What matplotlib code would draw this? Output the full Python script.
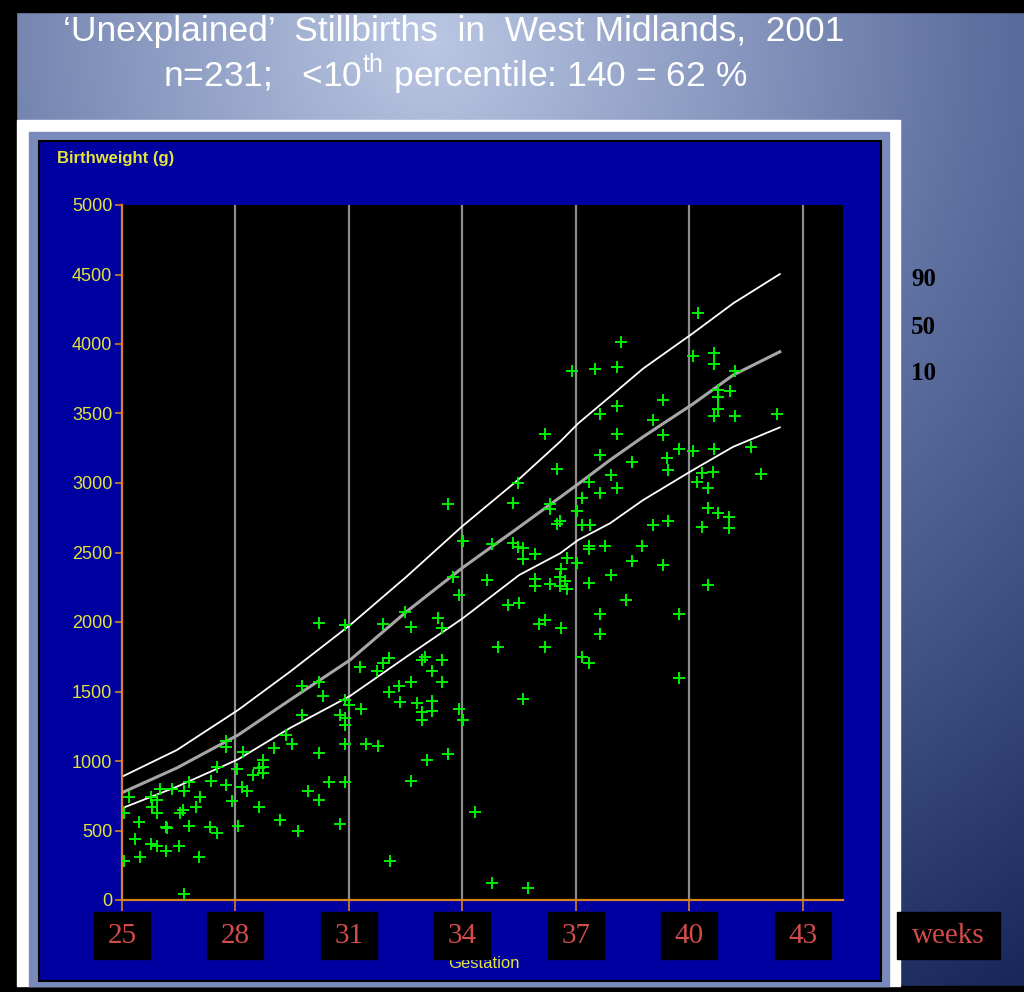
import numpy as np
import matplotlib.pyplot as plt
from matplotlib.patches import Rectangle

plt.rcParams['font.family'] = ['Liberation Sans', 'DejaVu Sans']
plt.rcParams['mathtext.fontset'] = 'custom'
plt.rcParams['mathtext.rm'] = 'Liberation Sans'

# percentile curves
curve_weeks = [25, 26.45, 28.07, 29.44, 31.03, 32.52, 34, 35.5, 36.58, 37.06,
               37.9, 38.78, 40.09, 41.16, 42.39]
p90 = [887, 1079, 1367, 1642, 1978, 2326, 2690, 3029, 3297, 3429,
       3621, 3824, 4077, 4293, 4503]
p50 = [772, 950, 1187, 1439, 1727, 2074, 2390, 2683, 2897, 2993,
       3165, 3333, 3568, 3777, 3944]
p10 = [660, 815, 1012, 1237, 1468, 1750, 2025, 2338, 2494, 2590,
       2710, 2878, 3093, 3261, 3400]

# stillbirths: gestation (weeks) and birthweight (g)
gest = [30.21, 30.89, 29.77, 30.21, 30.32, 29.77, 30.89, 31.0, 30.76, 30.89,
        30.89, 30.89, 30.89, 30.76, 30.47, 30.21, 30.21, 29.92, 29.50, 29.33,
        29.03, 28.74, 28.74, 28.74, 28.62, 28.47, 28.63, 29.19, 29.64, 28.19,
        28.05, 28.16, 28.30, 27.92, 28.07, 27.75, 27.75, 27.50, 27.35, 27.75,
        27.06, 26.95, 26.78, 26.65, 26.62, 26.53, 26.78, 26.31, 26.0, 25.92,
        25.92, 25.78, 25.77, 26.16, 26.2, 27.33, 27.50, 26.52, 26.15, 25.76,
        25.92, 27.04, 25.48, 25.34, 25.46, 25.19, 25.04, 25.05, 26.64,
        33.61, 35.48, 35.34, 34.02, 34.79, 35.34, 35.48, 35.61, 35.61, 33.76,
        33.91, 34.64, 35.20, 35.50, 34.95, 35.61, 32.48, 33.35, 33.45, 32.63,
        31.91, 32.92, 33.02, 33.47, 33.20, 33.47, 32.06, 31.91, 31.75, 31.29,
        32.63, 32.32, 32.07, 32.35, 32.79, 33.20, 33.20, 32.92, 32.92, 33.91,
        34.02, 31.32, 31.45, 31.76, 33.05, 33.61, 32.63, 34.33, 32.08, 34.79,
        35.74,
        38.19, 36.89, 37.50, 38.08, 39.31, 38.08, 37.64, 39.04, 39.31, 38.08,
        36.18, 37.64, 38.49, 39.40, 39.44, 37.93, 36.49, 37.35, 37.64, 38.08,
        37.15, 36.31, 36.31, 37.04, 36.58, 36.49, 37.15, 37.37, 39.04, 39.44,
        35.92, 36.76, 37.35, 37.35, 37.77, 38.75, 38.49, 39.31, 37.04, 36.60,
        36.58, 36.71, 36.76, 36.58, 36.31, 35.92, 35.92, 37.35, 37.93, 38.32,
        36.03, 36.18, 36.60, 37.64, 37.64, 36.18, 37.15, 37.35,
        40.22, 40.09, 40.65, 40.65, 41.20, 40.76, 41.07, 40.76, 40.76, 40.65,
        41.20, 42.32, 39.73, 40.09, 40.65, 41.62, 40.32, 40.63, 40.21, 40.50,
        41.89, 40.48, 40.76, 41.05, 40.34, 41.05, 40.48, 39.73, 39.73]
bw = [1995, 1978, 1540, 1571, 1468, 1331, 1439, 1403, 1331, 1307,
      1259, 1122, 851, 547, 851, 719, 1060, 786, 1122, 1187,
      1091, 1007, 959, 911, 947, 899, 671, 576, 496, 1067,
      940, 815, 786, 712, 532, 1146, 1103, 959, 858, 827,
      743, 671, 851, 784, 647, 623, 532, 798, 798, 719,
      623, 671, 743, 527, 520, 523, 479, 391, 355, 400,
      391, 312, 312, 436, 563, 743, 623, 281, 43,
      2849, 3002, 2853, 2585, 2561, 2566, 2542, 2530, 2451, 2321,
      2194, 2302, 2122, 2139, 1822, 1444, 2074, 2026, 1959, 1962,
      1985, 1727, 1750, 1727, 1650, 1571, 1739, 1707, 1650, 1678,
      1571, 1540, 1499, 1427, 1420, 1434, 1362, 1355, 1295, 1372,
      1295, 1372, 1120, 1108, 1007, 1050, 858, 635, 281, 125,
      84,
      4013, 3808, 3819, 3832, 3595, 3552, 3494, 3454, 3347, 3355,
      3355, 3201, 3148, 3180, 3095, 3060, 3103, 3007, 2929, 2967,
      2895, 2847, 2815, 2796, 2730, 2704, 2701, 2701, 2701, 2727,
      2491, 2464, 2544, 2522, 2549, 2549, 2437, 2408, 2421, 2384,
      2323, 2296, 2235, 2262, 2270, 2309, 2262, 2278, 2336, 2158,
      1985, 2016, 1958, 2057, 1916, 1817, 1750, 1705,
      4225, 3914, 3933, 3856, 3806, 3669, 3664, 3621, 3530, 3484,
      3484, 3496, 3244, 3230, 3244, 3261, 3070, 3077, 3009, 2962,
      3065, 2818, 2786, 2758, 2686, 2674, 2266, 2055, 1599]

week_ticks = [25, 28, 31, 34, 37, 40, 43]
weight_ticks = list(range(0, 5001, 500))
pct_labels = ['90', '50', '10']

W, H = 1024, 992
orange = '#d8841c'
yellow = '#e2e43c'
salmon = '#d24c4c'

fig = plt.figure(figsize=(W / 100, H / 100), dpi=100)

# slide background (pixel coordinates)
bg = fig.add_axes([0, 0, 1, 1])
bg.set_xlim(0, W)
bg.set_ylim(H, 0)
bg.axis('off')
yy, xx = np.mgrid[0:H, 0:W]
d = np.clip(np.hypot(xx - 430, yy - 40) / 1100, 0, 1)
c0 = np.array([0.73, 0.78, 0.89])
c1 = np.array([0.37, 0.44, 0.63])
c2 = np.array([0.10, 0.16, 0.36])
t = d[..., None]
img = np.where(t < 0.5, c0 + (c1 - c0) * (t / 0.5), c1 + (c2 - c1) * ((t - 0.5) / 0.5))
bg.imshow(img, extent=(0, W, H, 0), aspect='auto', zorder=0)
bg.add_patch(Rectangle((0, 0), W, 12, color='black', zorder=1))
bg.add_patch(Rectangle((0, 0), 16, H, color='black', zorder=1))
bg.add_patch(Rectangle((0, 986), W, 6, color='black', zorder=1))
bg.add_patch(Rectangle((17, 120), 883, 866, color='white', zorder=2))
bg.add_patch(Rectangle((29, 132), 860, 854, color='#7a8aba', zorder=3))
bg.add_patch(Rectangle((39, 141), 842, 840, facecolor='#0000a0',
                       edgecolor='black', lw=1.5, zorder=4))

bg.text(454, 32, '\u2018Unexplained\u2019  Stillbirths  in  West Midlands,  2001',
        color='white', fontsize=25.5, ha='center', va='center', zorder=5)
bg.text(455, 74, r'n=231;   <10$^{\mathrm{th}}$ percentile: 140 = 62 %',
        color='white', fontsize=25.5, ha='center', va='center', zorder=5)

for lab, yp in zip(pct_labels, [279, 327, 373]):
    bg.text(911, yp, lab, fontsize=18, fontweight='bold', color='black',
            family='Liberation Serif', va='center', zorder=5)

bg.text(57, 158, 'Birthweight (g)', color=yellow, fontsize=12,
        fontweight='bold', va='center', zorder=5)
bg.text(484, 963, 'Gestation', color=yellow, fontsize=12, ha='center',
        va='center', zorder=5)
bg.add_patch(Rectangle((897, 912), 103, 47, color='black', zorder=5))
bg.text(948, 936, 'weeks', color=salmon, fontsize=21, family='Liberation Serif',
        ha='center', va='center', zorder=6)

# chart
ax = fig.add_axes([122 / W, 1 - 900 / H, 721 / W, 695 / H])
ax.set_facecolor('black')
ax.set_xlim(25, 44.06)
ax.set_ylim(0, 5000)
for w in week_ticks[1:]:
    ax.axvline(w, color='#8c8c8c', lw=1.6, zorder=1)
ax.plot(curve_weeks, p90, color='white', lw=1.3, zorder=2)
ax.plot(curve_weeks, p50, color='#a6a6a6', lw=2.2, zorder=2)
ax.plot(curve_weeks, p10, color='white', lw=1.3, zorder=2)
ax.plot(gest, bw, '+', color='#00f000', ms=8, mew=1.4, ls='none', zorder=3)

for s in ['top', 'right']:
    ax.spines[s].set_visible(False)
for s in ['left', 'bottom']:
    ax.spines[s].set_color(orange)
    ax.spines[s].set_linewidth(1.6)
ax.set_yticks(weight_ticks)
ax.tick_params(axis='y', colors=orange, labelcolor=yellow, labelsize=13,
               length=5, width=1.2, pad=2)
ax.set_xticks(week_ticks)
ax.set_xticklabels([])
ax.tick_params(axis='x', colors=orange, length=8, width=1.2)

xt = ax.get_xaxis_transform()
for w in week_ticks:
    ax.add_patch(Rectangle((w - 0.74, -0.0849), 1.48, 0.0676, transform=xt,
                           color='black', clip_on=False, zorder=5))
    ax.text(w, -0.0518, str(w), transform=xt, color=salmon, fontsize=21,
            family='Liberation Serif', ha='center', va='center', clip_on=False,
            zorder=6)

fig.savefig('out.png', dpi=100)
